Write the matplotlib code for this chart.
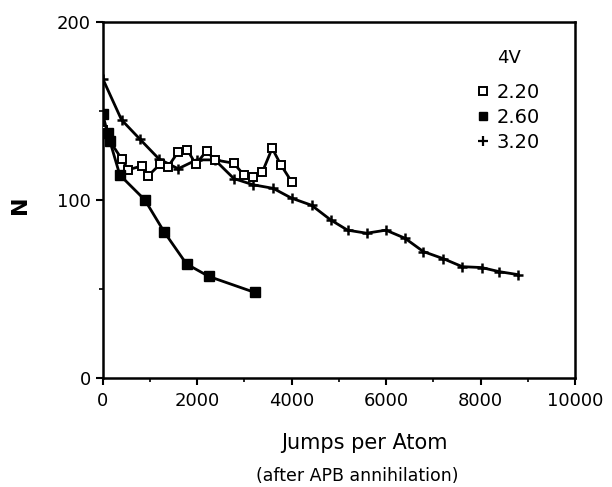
import matplotlib.pyplot as plt
import matplotlib.lines as mlines
from matplotlib.ticker import MultipleLocator

plt.rcParams['font.family'] = ['DejaVu Sans']

# data
# 4V = 2.20 (open squares)
x_220 = [0, 150, 400, 540, 820, 960, 1210, 1384, 1596, 1793, 1970, 2196, 2373,
         2775, 2987, 3185, 3376, 3587, 3771, 3997]
n_220 = [139, 133, 123, 117, 119, 113.5, 120, 118.7, 127, 128, 120, 127.5, 122.5,
         120.6, 114, 113, 115.5, 129, 119.7, 110.3]

# 4V = 2.60 (filled squares)
x_260 = [0, 100, 150, 360, 890, 1300, 1773, 2246, 3220]
n_260 = [148, 137.5, 133, 114, 100, 82, 64, 57, 48]

# 4V = 3.20 (plus)
x_320 = [0, 396, 790, 1190, 1596, 1985, 2373, 2775, 3185, 3608, 3997, 4421,
         4824, 5184, 5586, 5996, 6398, 6787, 7210, 7613, 8022, 8396, 8799]
n_320 = [168, 145, 134, 123, 117.5, 122.5, 122.5, 112, 108.5, 106.5, 101, 97,
         88.8, 83, 81.3, 83, 78.5, 71, 67, 62.5, 62, 59.7, 58]

labels = ['2.20', '2.60', '3.20']

fig = plt.figure(figsize=(6.12, 4.87), dpi=100)
ax = fig.add_axes([0.168, 0.224, 0.7715, 0.731])

ax.plot(x_220, n_220, color='black', lw=2, marker='s', ms=6,
        mfc='white', mec='black', mew=1.4, zorder=3)
ax.plot(x_260, n_260, color='black', lw=2, marker='s', ms=6.5,
        mfc='black', mec='black', zorder=3)
ax.plot(x_320, n_320, color='black', lw=2, marker='+', ms=7.5, mew=1.8, zorder=2)

ax.set_xlim(0, 10000)
ax.set_ylim(0, 200)
ax.xaxis.set_major_locator(MultipleLocator(2000))
ax.xaxis.set_minor_locator(MultipleLocator(1000))
ax.yaxis.set_major_locator(MultipleLocator(100))
ax.yaxis.set_minor_locator(MultipleLocator(50))

for s in ['top', 'left', 'right', 'bottom']:
    ax.spines[s].set_linewidth(1.8)
ax.tick_params(which='major', direction='out', length=5, width=1.5, labelsize=13)
ax.tick_params(axis='x', pad=5)
ax.tick_params(which='minor', direction='out', length=3, width=1.2)

ax.set_ylabel('N', fontsize=16, fontweight='bold')
ax.yaxis.set_label_coords(-0.155, 0.486)
ax.set_xlabel('Jumps per Atom', fontsize=15)
ax.xaxis.set_label_coords(0.555, -0.155)
fig.text(0.583, 0.0226, '(after APB annihilation)', fontsize=12.5,
         ha='center', va='center')

ax.text(0.86, 0.90, '4V', transform=ax.transAxes, fontsize=13,
        ha='center', va='center')
h1 = mlines.Line2D([], [], ls='none', marker='s', ms=5.5, mfc='white', mec='black', mew=1.4, label=labels[0])
h2 = mlines.Line2D([], [], ls='none', marker='s', ms=6, mfc='black', mec='black', label=labels[1])
h3 = mlines.Line2D([], [], ls='none', marker='+', ms=6.5, mew=1.6, color='black', label=labels[2])
ax.legend(handles=[h1, h2, h3], frameon=False, fontsize=14,
          loc='upper left', bbox_to_anchor=(0.793, 0.828),
          handlelength=0.6, handletextpad=0.4, labelspacing=0.3,
          borderpad=0, borderaxespad=0)

plt.savefig('out.png', dpi=100)
